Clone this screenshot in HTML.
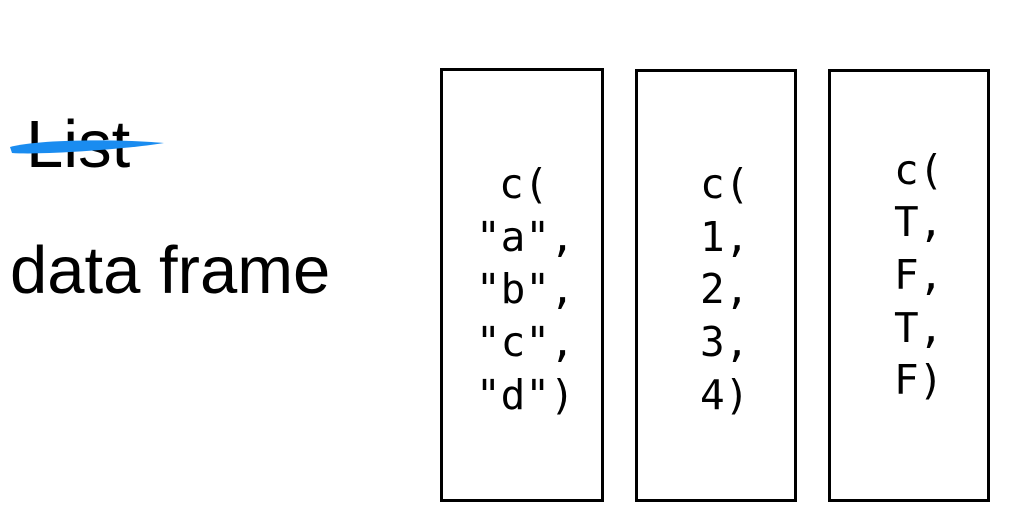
<!DOCTYPE html>
<html><head><meta charset="utf-8"><style>
html,body{margin:0;padding:0;background:#fff;}
svg{display:block;}
.m{font-family:"DejaVu Sans Mono","Liberation Mono",monospace;font-size:41px;fill:#000;}
.s{font-family:"Liberation Sans",Arial,sans-serif;font-size:67px;fill:#000;}
</style></head><body>
<svg width="1011" height="522" viewBox="0 0 1011 522" xmlns="http://www.w3.org/2000/svg">
<rect width="1011" height="522" fill="#fff"/>
<text class="s" x="26" y="167">List</text>
<path d="M10 147 C 40 139, 120 139, 164 143 C 120 150, 40 155, 12 153 Z" fill="#1a8cf0"/>
<text class="s" x="10" y="293">data frame</text>
<rect x="441.5" y="69.5" width="161" height="431" fill="none" stroke="#000" stroke-width="3"/>
<rect x="636.5" y="70.5" width="159" height="430" fill="none" stroke="#000" stroke-width="3"/>
<rect x="829.5" y="70.5" width="159" height="430" fill="none" stroke="#000" stroke-width="3"/>
<g class="m">
<text x="499" y="198">c(</text>
<text x="476" y="251">"a",</text>
<text x="476" y="303">"b",</text>
<text x="476" y="356">"c",</text>
<text x="476" y="409">"d")</text>
<text x="700" y="198">c(</text>
<text x="700" y="251">1,</text>
<text x="700" y="303">2,</text>
<text x="700" y="356">3,</text>
<text x="700" y="409">4)</text>
<text x="894" y="184">c(</text>
<text x="894" y="236">T,</text>
<text x="894" y="289">F,</text>
<text x="894" y="342">T,</text>
<text x="894" y="394">F)</text>
</g>
</svg>
</body></html>
